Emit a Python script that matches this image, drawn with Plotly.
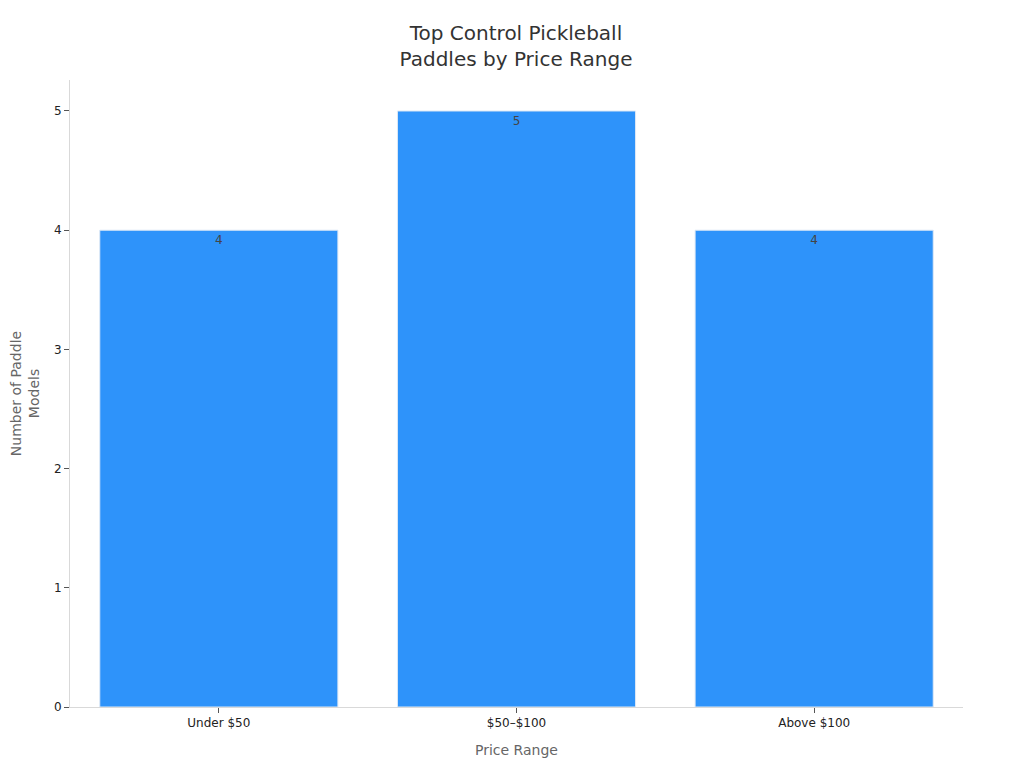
import plotly.graph_objects as go

price_ranges = ["Under $50", "$50–$100", "Above $100"]
paddle_counts = [4, 5, 4]

fig = go.Figure()
fig.add_trace(go.Bar(
    x=price_ranges,
    y=paddle_counts,
    text=paddle_counts,
    textposition="inside",
    insidetextanchor="end",
    textfont=dict(color="#444444", size=12),
    marker=dict(color="#2E93FA", line=dict(color="#dfe9f5", width=1)),
))

# page body adds 8px, so the figure is sized to fill the rest of the window
fig.update_layout(
    title=dict(text="Top Control Pickleball<br>Paddles by Price Range", x=0.5, xanchor="center",
               y=0.958, font=dict(size=20, color="#333333")),
    font=dict(family="DejaVu Sans, sans-serif", size=12, color="#333333"),
    plot_bgcolor="white",
    paper_bgcolor="white",
    width=1016,
    height=760,
    margin=dict(l=62, r=61, t=72, b=61),
    bargap=0.2,
    showlegend=False,
)
fig.update_xaxes(
    title=dict(text="Price Range", font=dict(size=14, color="#666666")),
    showline=True, linecolor="#d9d9d9", ticks="outside", ticklen=5, tickcolor="#555555",
    tickfont=dict(size=12, color="#222222"),
)
fig.update_yaxes(
    title=dict(text="Number of Paddle<br>Models", font=dict(size=14, color="#666666"), standoff=12),
    range=[0, 5.26], dtick=1, showgrid=False, zeroline=False, automargin=False,
    showline=True, linecolor="#d9d9d9", ticks="outside", ticklen=5, tickcolor="#555555",
    tickfont=dict(size=12, color="#222222"),
)

fig.write_html("out.html")
